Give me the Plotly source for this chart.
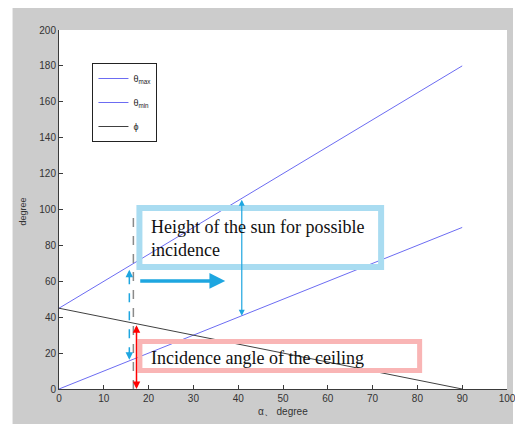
import plotly.graph_objects as go

# ---- data ----
alpha = [0, 90]
theta_max = [45, 180]
theta_min = [0, 90]
phi = [45, 0]
x_ticks = list(range(0, 101, 10))
y_ticks = list(range(0, 201, 20))

# ---- annotation geometry (data units) ----
alpha_mark = 16.3
alpha_mark2 = 40.8

# page body has an 8px default margin; compensate so the figure fills the 523x425 view
OFF = 8
W, H = 523 - OFF, 425 - OFF
L, R, T, B = 58.5 - OFF, 16, 30 - OFF, 36
pw, ph = W - L - R, H - T - B

def px2paper_x(px):  # px in reference-screenshot coordinates
    return (px - OFF - L) / pw

def px2paper_y(py):
    return (H - B - (py - OFF)) / ph

BLUE_LINE = "#6c6cf2"
AX = "#3a3a3a"
ARROW_BLUE = "#1ea6e0"
BOX_BLUE = "#a9dcf1"
BOX_PINK = "#f9b5b5"

fig = go.Figure()
fig.add_trace(go.Scatter(x=alpha, y=theta_max, mode="lines", name="θ<sub>max</sub>",
                         line=dict(color=BLUE_LINE, width=1), legendgroup="a"))
fig.add_trace(go.Scatter(x=alpha, y=theta_min, mode="lines", name="θ<sub>min</sub>",
                         line=dict(color=BLUE_LINE, width=1), legendgroup="b"))
fig.add_trace(go.Scatter(x=alpha, y=phi, mode="lines", name="ϕ",
                         line=dict(color="#404040", width=1), legendgroup="c"))

def interp(xs, ys, x):
    return ys[0] + (ys[1] - ys[0]) * (x - xs[0]) / (xs[1] - xs[0])

tmax1 = interp(alpha, theta_max, alpha_mark)
tmin1 = interp(alpha, theta_min, alpha_mark)
phi1 = interp(alpha, phi, alpha_mark + 1)
tmax2 = interp(alpha, theta_max, alpha_mark2)
tmin2 = interp(alpha, theta_min, alpha_mark2)

shapes = [
    # gray figure background
    dict(type="rect", xref="paper", yref="paper",
         x0=px2paper_x(12), x1=px2paper_x(513), y0=px2paper_y(424), y1=px2paper_y(6),
         fillcolor="#cccccc", line=dict(width=0), layer="below"),
    # white axes area
    dict(type="rect", xref="paper", yref="paper", x0=0, x1=1, y0=0, y1=1,
         fillcolor="white", line=dict(width=0), layer="below"),
    # gray dashed vertical marker
    dict(type="line", x0=alpha_mark + 0.3, x1=alpha_mark + 0.3, y0=0, y1=97,
         line=dict(color="#8a8a8a", width=1.5, dash="dash")),
    # blue dashed span
    dict(type="line", x0=alpha_mark - 0.6, x1=alpha_mark - 0.6, y0=tmin1 + 2, y1=tmax1 - 4,
         line=dict(color=ARROW_BLUE, width=1.5, dash="dash")),
    # text boxes
    dict(type="rect", x0=17.95, x1=71.9, y0=68.0, y1=100.8,
         line=dict(color=BOX_BLUE, width=6), layer="above"),
    dict(type="rect", x0=18.06, x1=80.5, y0=10.3, y1=26.5,
         line=dict(color=BOX_PINK, width=5), layer="above"),
]

anns = [
    # blue dashed arrow heads
    dict(x=alpha_mark - 0.6, y=tmax1 - 3, ax=alpha_mark - 0.6, ay=tmax1 - 8, xref="x", yref="y",
         axref="x", ayref="y", showarrow=True, arrowhead=2, arrowsize=1, arrowwidth=1.5,
         arrowcolor=ARROW_BLUE, text=""),
    dict(x=alpha_mark - 0.6, y=tmin1, ax=alpha_mark - 0.6, ay=tmin1 + 5, xref="x", yref="y",
         axref="x", ayref="y", showarrow=True, arrowhead=2, arrowsize=1, arrowwidth=1.5,
         arrowcolor=ARROW_BLUE, text=""),
    # red double arrow
    dict(x=alpha_mark + 1, y=0, ax=alpha_mark + 1, ay=phi1, xref="x", yref="y",
         axref="x", ayref="y", showarrow=True, arrowhead=2, startarrowhead=2, arrowside="end+start",
         arrowsize=1, arrowwidth=1.5, arrowcolor="#ff0000", text=""),
    # blue solid double arrow
    dict(x=alpha_mark2, y=tmin2, ax=alpha_mark2, ay=tmax2, xref="x", yref="y",
         axref="x", ayref="y", showarrow=True, arrowhead=2, startarrowhead=2, arrowside="end+start",
         arrowsize=1, arrowwidth=1.2, arrowcolor=ARROW_BLUE, text=""),
    # thick horizontal arrow
    dict(x=37.1, y=60.2, ax=17.8, ay=60.2, xref="x", yref="y",
         axref="x", ayref="y", showarrow=True, arrowhead=2, arrowsize=0.9, arrowwidth=3.5,
         arrowcolor=ARROW_BLUE, text=""),
    # texts
    dict(x=20.1, y=84.0, xref="x", yref="y", xanchor="left", yanchor="middle", align="left",
         showarrow=False, text="Height of the sun for possible<br>incidence",
         font=dict(family="Liberation Serif", size=18, color="#111111")),
    dict(x=20.1, y=17.3, xref="x", yref="y", xanchor="left", yanchor="middle", align="left",
         showarrow=False, text="Incidence angle of the ceiling",
         font=dict(family="Liberation Serif", size=18, color="#111111")),
    # axis titles
    dict(x=px2paper_x(282.5), y=px2paper_y(411), xref="paper", yref="paper",
         xanchor="center", yanchor="middle", showarrow=False, text="α、 degree",
         font=dict(family="Liberation Sans", size=10, color="#333333")),
    dict(x=px2paper_x(22), y=px2paper_y(212), xref="paper", yref="paper",
         xanchor="center", yanchor="middle", showarrow=False, text="degree", textangle=-90,
         font=dict(family="Liberation Sans", size=9, color="#333333")),
]

fig.update_layout(
    width=W, height=H,
    margin=dict(l=L, r=R, t=T, b=B, pad=0, autoexpand=False),
    paper_bgcolor="white",
    plot_bgcolor="rgba(0,0,0,0)",
    shapes=shapes,
    annotations=anns,
    showlegend=True,
    legend=dict(x=px2paper_x(92), y=px2paper_y(63), xanchor="left", yanchor="top",
                bgcolor="white", bordercolor="#222222", borderwidth=1,
                font=dict(family="Liberation Sans", size=9, color="#222222"),
                tracegroupgap=5, itemwidth=30, entrywidth=48),
    xaxis=dict(range=[0, 100], tickvals=x_ticks, ticks="inside", ticklen=4, tickcolor=AX,
               showline=True, linecolor=AX, linewidth=1, showgrid=False, zeroline=False,
               automargin=False,
               tickfont=dict(family="Liberation Sans", size=10, color="#333333")),
    yaxis=dict(range=[0, 200], tickvals=y_ticks, ticks="inside", ticklen=4, tickcolor=AX,
               showline=True, linecolor=AX, linewidth=1, showgrid=False, zeroline=False,
               automargin=False,
               tickfont=dict(family="Liberation Sans", size=10, color="#333333")),
)

fig.write_html("out.html")
